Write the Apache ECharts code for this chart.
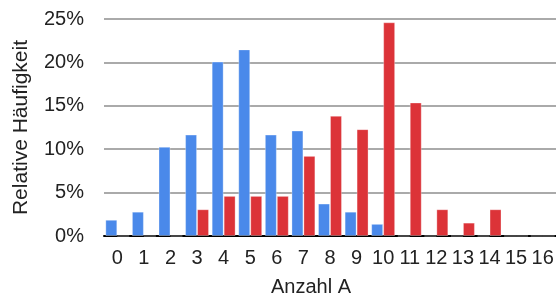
<!DOCTYPE html>
<html>
<head>
<meta charset="utf-8">
<script src="https://cdn.jsdelivr.net/npm/echarts@6/dist/echarts.min.js"></script>
<style>
  html, body { margin: 0; padding: 0; background: #fff; }
  #chart { width: 556px; height: 298px; }
</style>
</head>
<body>
<div id="chart"></div>
<script>
const categories = ['0', '1', '2', '3', '4', '5', '6', '7', '8', '9', '10', '11', '12', '13', '14', '15', '16']
// relative Häufigkeit
const blueValues = [0.0187, 0.028, 0.1028, 0.1168, 0.2009, 0.215, 0.1168, 0.1215, 0.0374, 0.028, 0.014, 0, 0, 0, 0, 0, 0]
const redValues = [0, 0, 0, 0.0308, 0.0462, 0.0462, 0.0462, 0.0923, 0.1385, 0.1231, 0.2462, 0.1538, 0.0308, 0.0154, 0.0308, 0, 0]

const font = 'Liberation Sans, Arial, sans-serif'

const chart = echarts.init(document.getElementById('chart'))

chart.setOption({
  animation: false,
  grid: {left: 104, right: 0, top: 19, bottom: 62, outerBoundsMode: 'none'},
  xAxis: {
    type: 'category',
    data: categories,
    name: 'Anzahl A',
    nameLocation: 'middle',
    nameGap: 41,
    nameTextStyle: {color: '#222', fontSize: 20, fontFamily: font, padding: [0, 38, 0, 0]},
    axisLine: {lineStyle: {color: '#000', width: 2}},
    axisTick: {show: false},
    axisLabel: {color: '#222', fontSize: 20, fontFamily: font, margin: 12, interval: 0}
  },
  yAxis: {
    type: 'value',
    min: 0,
    max: 0.25,
    interval: 0.05,
    name: 'Relative Häufigkeit',
    nameLocation: 'middle',
    nameGap: 72,
    nameTextStyle: {color: '#222', fontSize: 21, fontFamily: font},
    axisLine: {show: false},
    axisTick: {show: false},
    axisLabel: {
      color: '#222',
      fontSize: 20,
      fontFamily: font,
      margin: 20,
      formatter: (v) => Math.round(v * 100) + '%'
    },
    splitLine: {lineStyle: {color: '#8e8e8e', width: 1.5}}
  },
  series: [
    {
      type: 'bar',
      data: blueValues,
      barGap: '0%',
      barCategoryGap: '10%',
      itemStyle: {color: '#4a89ea', borderColor: 'rgba(255,255,255,0.3)', borderWidth: 1}
    },
    {
      type: 'bar',
      data: redValues,
      itemStyle: {color: '#dc3338', borderColor: 'rgba(255,255,255,0.3)', borderWidth: 1}
    }
  ]
})
</script>
</body>
</html>
